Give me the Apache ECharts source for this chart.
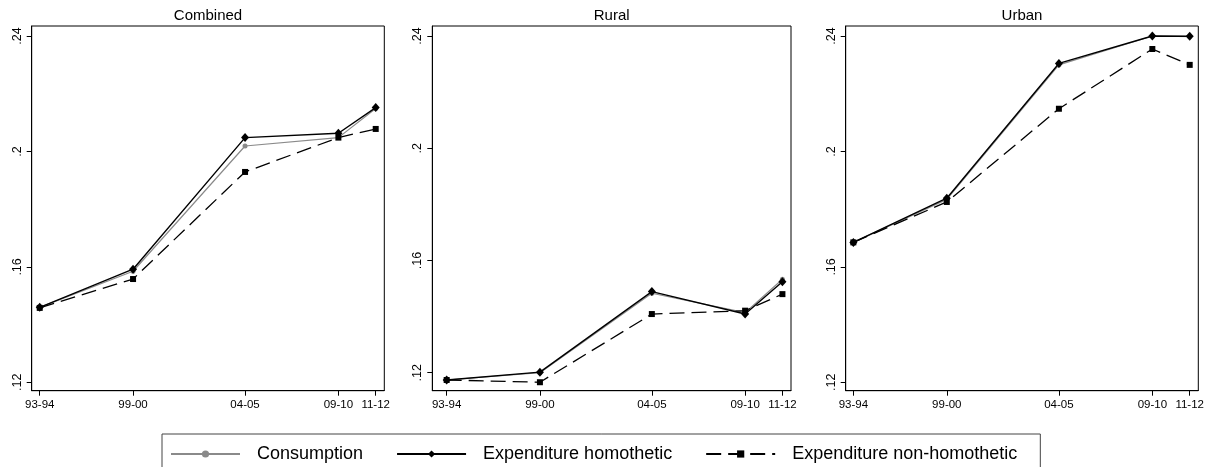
<!DOCTYPE html>
<html>
<head>
<meta charset="utf-8">
<title>Inequality by NSS round</title>
<script src="https://cdn.jsdelivr.net/npm/echarts@6/dist/echarts.min.js"></script>
<style>
  html, body { margin: 0; padding: 0; background: #fff; }
  #chart { width: 1217px; height: 467px; }
</style>
</head>
<body>
<div id="chart"></div>
<script>
// NSS rounds (x position) and their survey-year labels
const rounds = [50, 55, 61, 66, 68];
const roundLabels = ['93-94', '99-00', '04-05', '09-10', '11-12'];

// y-axis ticks
const yTicks = [0.12, 0.16, 0.2, 0.24];
const yTickLabels = ['.12', '.16', '.2', '.24'];

const panelTitles = ['Combined', 'Rural', 'Urban'];
const seriesNames = ['Consumption', 'Expenditure homothetic', 'Expenditure non-homothetic'];

// Combined
const combinedConsumption = [0.1460, 0.1585, 0.2019, 0.2048, 0.2149];
const combinedHomothetic = [0.1460, 0.1592, 0.2048, 0.2063, 0.2152];
const combinedNonHomothetic = [0.1458, 0.1558, 0.1929, 0.2048, 0.2078];

// Rural
const ruralConsumption = [0.1174, 0.1200, 0.1483, 0.1414, 0.1533];
const ruralHomothetic = [0.1174, 0.1202, 0.1489, 0.1409, 0.1524];
const ruralNonHomothetic = [0.1174, 0.1166, 0.1409, 0.1421, 0.1480];

// Urban
const urbanConsumption = [0.1685, 0.1834, 0.2300, 0.2400, 0.2398];
const urbanHomothetic = [0.1685, 0.1838, 0.2305, 0.2400, 0.2399];
const urbanNonHomothetic = [0.1685, 0.1825, 0.2148, 0.2355, 0.2300];

const panelData = [
  [combinedConsumption, combinedHomothetic, combinedNonHomothetic],
  [ruralConsumption, ruralHomothetic, ruralNonHomothetic],
  [urbanConsumption, urbanHomothetic, urbanNonHomothetic]
];

// plot-region geometry of each panel
const grids = [
  { left: 31.7, top: 26, width: 352.6, height: 364.7 },
  { left: 432.3, top: 26, width: 358.7, height: 364.7 },
  { left: 845.7, top: 26, width: 352.6, height: 364.7 }
];
const xRanges = [[49.57, 68.46], [49.23, 68.46], [49.59, 68.46]];
const yRanges = [[0.11711, 0.24347], [0.11358, 0.24356], [0.11711, 0.24347]];

const FONT = '"Liberation Sans", Arial, Helvetica, sans-serif';

const seriesStyles = [
  { symbol: 'circle', symbolSize: 5, color: '#8a8a8a', line: { width: 1.2, type: 'solid' } },
  { symbol: 'diamond', symbolSize: [8, 9], color: '#000', line: { width: 1.4, type: 'solid' } },
  { symbol: 'rect', symbolSize: 6, color: '#000', line: { width: 1.3, type: [15, 7] } }
];

const chart = echarts.init(document.getElementById('chart'), null, { renderer: 'canvas' });

const option = {
  animation: false,
  backgroundColor: '#fff',
  title: panelTitles.map((t, i) => ({
    text: t,
    left: grids[i].left + grids[i].width / 2,
    top: 8,
    textAlign: 'center',
    padding: 0,
    textStyle: { fontSize: 15, fontWeight: 'normal', color: '#000', fontFamily: FONT }
  })),
  grid: grids.map(g => ({
    left: g.left, top: g.top, width: g.width, height: g.height,
    show: true, borderColor: '#000', borderWidth: 1, backgroundColor: '#fff',
    containLabel: false
  })),
  xAxis: grids.map((g, i) => ({
    type: 'value',
    gridIndex: i,
    min: xRanges[i][0],
    max: xRanges[i][1],
    splitLine: { show: false },
    axisLine: { show: true, onZero: false, lineStyle: { color: '#000', width: 1 } },
    axisTick: { show: true, length: 5, lineStyle: { color: '#000' }, customValues: rounds },
    axisLabel: {
      customValues: rounds,
      margin: 8,
      fontSize: 11.5,
      color: '#000',
      fontFamily: FONT,
      formatter: v => roundLabels[rounds.indexOf(v)] || ''
    }
  })),
  yAxis: grids.map((g, i) => ({
    type: 'value',
    gridIndex: i,
    min: yRanges[i][0],
    max: yRanges[i][1],
    splitLine: { show: false },
    axisLine: { show: true, onZero: false, lineStyle: { color: '#000', width: 1 } },
    axisTick: { show: true, length: 5, lineStyle: { color: '#000' }, customValues: yTicks },
    axisLabel: {
      customValues: yTicks,
      rotate: 90,
      margin: 8,
      fontSize: 12.5,
      color: '#000',
      fontFamily: FONT,
      formatter: v => {
        const k = yTicks.findIndex(t => Math.abs(t - v) < 1e-9);
        return k >= 0 ? yTickLabels[k] : '';
      }
    }
  })),
  legend: {
    left: 162,
    top: 434,
    orient: 'horizontal',
    itemWidth: 69,
    itemHeight: 9,
    itemGap: 33,
    padding: [11, 23, 11, 8],
    borderColor: '#444',
    borderWidth: 1,
    selectedMode: false,
    data: seriesNames,
    textStyle: { fontSize: 18, color: '#000', fontFamily: FONT, padding: [0, 0, 0, 12] }
  },
  series: []
};

panelData.forEach((panel, p) => {
  panel.forEach((vals, s) => {
    const st = seriesStyles[s];
    option.series.push({
      name: seriesNames[s],
      type: 'line',
      xAxisIndex: p,
      yAxisIndex: p,
      data: rounds.map((r, k) => [r, vals[k]]),
      symbol: st.symbol,
      symbolSize: st.symbolSize,
      showSymbol: true,
      showAllSymbol: true,
      silent: true,
      z: 2 + s,
      itemStyle: { color: st.color, borderWidth: 0 },
      lineStyle: { color: st.color, width: st.line.width, type: st.line.type },
      emphasis: { disabled: true }
    });
  });
});

chart.setOption(option);
</script>
</body>
</html>
